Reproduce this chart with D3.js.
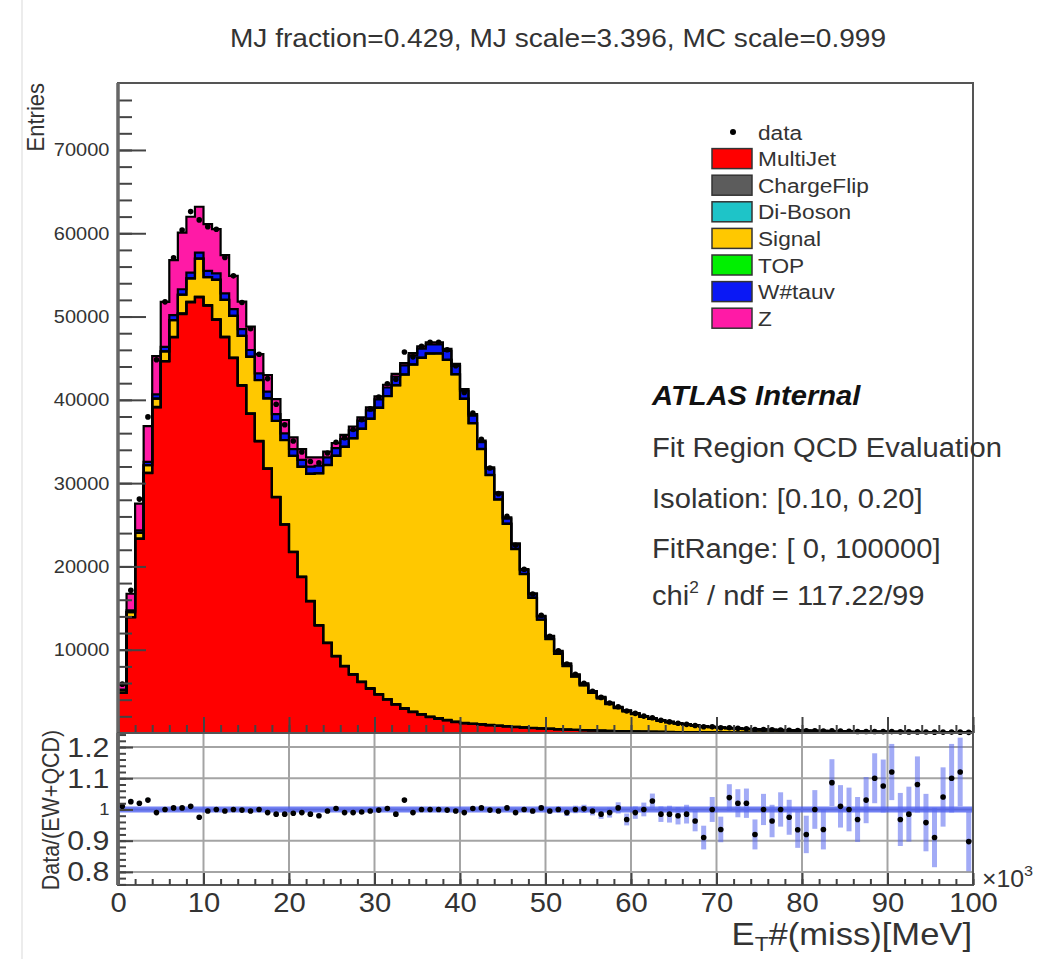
<!DOCTYPE html>
<html>
<head>
<meta charset="utf-8">
<script src="https://cdn.jsdelivr.net/npm/d3@7"></script>
<style>
  body { margin: 0; background: #fff; }
  svg { display: block; }
  text { font-family: "Liberation Sans", Arial, Helvetica, sans-serif; }
</style>
</head>
<body>
<script>
// bin contents, 100 bins of 1 (x10^3 MeV) from 0 to 100
const multiJet = [
  4800, 13900, 23300, 31200, 39100, 44600, 47500, 50300, 51700, 52300,
  51300, 49600, 47500, 45000, 41700, 38300, 35000, 31700, 28300, 25000,
  21700, 18700, 15800, 12900, 10800, 9200, 8000, 7000, 6100, 5300,
  4600, 4000, 3400, 2900, 2500, 2200, 1900, 1700, 1500, 1300,
  1150, 1080, 1000, 920, 850, 780, 710, 650, 590, 540,
  490, 440, 400, 360, 330, 300, 270, 240, 215, 195,
  175, 160, 145, 130, 118, 107, 97, 88, 80, 73,
  66, 60, 55, 50, 46, 42, 39, 36, 33, 30,
  28, 26, 24, 22, 20, 19, 18, 17, 16, 15,
  14, 13, 12, 11, 10, 10, 9, 9, 8, 8];
const chargeFlip = [
  4, 12, 22, 30, 36, 41, 45, 48, 50, 51,
  51, 50, 49, 47, 45, 43, 41, 39, 37, 36,
  35, 35, 35, 36, 37, 38, 39, 40, 41, 42,
  43, 44, 44, 44, 43, 42, 41, 39, 37, 34,
  31, 28, 25, 22, 20, 18, 16, 14, 12, 11,
  10, 9, 8, 7, 6, 6, 5, 5, 4, 4,
  3, 3, 3, 3, 2, 2, 2, 2, 2, 2,
  2, 2, 1, 1, 1, 1, 1, 1, 1, 1,
  1, 1, 1, 1, 1, 1, 1, 1, 1, 1,
  1, 1, 1, 1, 1, 1, 1, 1, 1, 1];
const diBoson = [
  2, 6, 10, 14, 17, 19, 21, 22, 23, 24,
  24, 24, 24, 24, 24, 24, 24, 25, 25, 26,
  27, 28, 29, 30, 31, 32, 33, 34, 35, 36,
  37, 38, 38, 39, 39, 39, 39, 38, 37, 36,
  34, 32, 30, 28, 26, 24, 22, 20, 18, 16,
  15, 14, 13, 12, 11, 10, 9, 9, 8, 8,
  7, 7, 6, 6, 6, 5, 5, 5, 4, 4,
  4, 4, 4, 3, 3, 3, 3, 3, 3, 3,
  2, 2, 2, 2, 2, 2, 2, 2, 2, 2,
  2, 2, 2, 2, 1, 1, 1, 1, 1, 1];
const signal = [
  300, 600, 700, 900, 1000, 1150, 2000, 2250, 2800, 4580,
  3360, 4740, 4420, 5000, 5900, 6800, 7300, 8400, 9100, 10100,
  11500, 13200, 15250, 18200, 21300, 24000, 26280, 28310, 30340, 32340,
  34350, 36350, 38250, 40050, 41650, 42750, 43560, 43780, 43210, 41670,
  38890, 36040, 33010, 29980, 27130, 24290, 21340, 18380, 15610, 13030,
  10740, 9040, 7620, 6400, 5360, 4510, 3870, 3220, 2760, 2390,
  2080, 1750, 1530, 1320, 1150, 1010, 884, 778, 690, 611,
  551, 500, 457, 415, 380, 346, 320, 294, 269, 253,
  235, 219, 201, 189, 176, 164, 152, 141, 133, 124,
  116, 110, 103, 96, 91, 86, 82, 76, 72, 67];
const topQuark = [
  0, 1, 2, 3, 4, 5, 6, 7, 8, 9,
  10, 11, 12, 13, 14, 15, 16, 17, 18, 19,
  20, 21, 22, 23, 24, 25, 26, 27, 28, 29,
  30, 31, 32, 33, 34, 35, 36, 36, 37, 37,
  38, 38, 38, 37, 37, 36, 35, 35, 34, 33,
  32, 31, 30, 29, 28, 27, 26, 25, 24, 23,
  22, 21, 20, 19, 18, 18, 17, 16, 15, 15,
  14, 13, 13, 12, 12, 11, 11, 10, 10, 9,
  9, 9, 8, 8, 8, 7, 7, 7, 6, 6,
  6, 6, 5, 5, 5, 5, 4, 4, 4, 4];
const wTauNu = [
  100, 200, 300, 400, 500, 550, 600, 650, 700, 720,
  740, 760, 780, 800, 800, 800, 800, 800, 800, 800,
  800, 800, 850, 900, 900, 900, 920, 940, 960, 980,
  1000, 1020, 1040, 1060, 1070, 1080, 1080, 1070, 1050, 1000,
  950, 880, 810, 740, 670, 600, 530, 460, 400, 340,
  290, 250, 215, 185, 160, 140, 120, 105, 92, 80,
  70, 62, 55, 48, 43, 38, 34, 30, 27, 24,
  22, 20, 18, 16, 15, 14, 13, 12, 11, 10,
  10, 9, 9, 8, 8, 7, 7, 7, 6, 6,
  6, 5, 5, 5, 5, 4, 4, 4, 4, 4];
const zJets = [
  600, 2000, 3200, 4300, 4600, 5400, 6600, 6800, 6700, 5500,
  5600, 5300, 4600, 4000, 3300, 2800, 2300, 2000, 1800, 1600,
  1400, 1300, 1100, 1000, 700, 600, 500, 450, 400, 380,
  350, 330, 310, 290, 280, 270, 260, 250, 240, 230,
  210, 200, 180, 160, 150, 130, 120, 110, 100, 90,
  80, 72, 65, 58, 52, 47, 42, 38, 34, 31,
  28, 25, 23, 21, 19, 17, 15, 14, 13, 12,
  11, 10, 10, 9, 9, 8, 8, 8, 7, 7,
  7, 6, 6, 6, 6, 5, 5, 5, 5, 5,
  4, 4, 4, 4, 4, 4, 3, 3, 3, 3];
const dataRatio = [
  1.010, 1.025, 1.020, 1.030, 0.990, 1.000, 1.005, 1.005, 1.010, 0.975,
  0.995, 1.000, 0.995, 1.000, 0.998, 0.995, 1.000, 0.990, 0.985, 0.985,
  0.988, 0.990, 0.985, 0.980, 0.995, 1.003, 0.990, 0.990, 0.992, 0.995,
  0.998, 1.003, 0.985, 1.030, 0.990, 1.000, 1.000, 1.000, 0.998, 0.995,
  0.990, 1.003, 1.005, 0.998, 0.995, 1.005, 0.990, 1.000, 0.995, 1.005,
  0.995, 1.000, 0.990, 1.000, 1.002, 0.995, 0.985, 0.990, 1.005, 0.968,
  0.990, 1.000, 1.027, 0.985, 0.985, 0.980, 0.985, 0.963, 0.910, 1.000,
  0.936, 1.038, 1.020, 1.020, 0.920, 1.000, 0.963, 1.000, 0.975, 0.935,
  0.920, 1.000, 0.936, 1.086, 1.010, 1.000, 0.968, 1.030, 1.100, 1.075,
  1.120, 0.968, 0.985, 1.080, 0.958, 0.910, 1.040, 1.100, 1.120, 0.897];
const ratioErr = [
  .004, .005, .004, .004, .004, .004, .004, .004, .004, .004,
  .004, .004, .004, .004, .004, .004, .004, .004, .005, .005,
  .005, .005, .005, .005, .005, .005, .005, .005, .005, .005,
  .005, .005, .005, .005, .005, .005, .005, .005, .005, .005,
  .005, .005, .006, .006, .006, .006, .007, .007, .008, .008,
  .009, .010, .011, .012, .013, .014, .015, .016, .018, .019,
  .020, .022, .024, .025, .027, .028, .030, .033, .038, .040,
  .041, .043, .045, .047, .048, .050, .052, .055, .056, .058,
  .060, .062, .064, .075, .068, .070, .072, .074, .080, .085,
  .090, .085, .088, .090, .092, .095, .095, .110, .110, .095];

const xTicks = [0, 10, 20, 30, 40, 50, 60, 70, 80, 90, 100];
const yTicks = [10000, 20000, 30000, 40000, 50000, 60000, 70000];
const ratioTicks = [0.8, 0.9, 1, 1.1, 1.2];
const stackKeys = ["MultiJet", "ChargeFlip", "Di-Boson", "Signal", "TOP", "Wtaunu", "Z"];
const stackCols = [multiJet, chargeFlip, diBoson, signal, topQuark, wTauNu, zJets];
const legendNames = ["MultiJet", "ChargeFlip", "Di-Boson", "Signal", "TOP", "W#tauv", "Z"];
const fillColors = ["#ff0000", "#5c5c5c", "#1ec4c8", "#ffc800", "#00f000", "#0a18f5", "#ff1aa6"];
const infoLines = ["Fit Region QCD Evaluation", "Isolation: [0.10, 0.20]", "FitRange: [ 0, 100000]"];

// layout
const xLo = 118, xHi = 973, topY = 83, midY = 733, botY = 885;
const stretch = 1.08;   // the picture is a bit wider than the ROOT canvas
const ink = "#333";

const svg = d3.select("body").append("svg").attr("width", 1040).attr("height", 959);
svg.append("rect").attr("width", 1040).attr("height", 959).attr("fill", "#fff");
svg.append("line").attr("x1", 22).attr("x2", 22).attr("y1", 0).attr("y2", 959)
    .attr("stroke", "#e6e6e6").attr("stroke-width", 1.5);

const x = d3.scaleLinear().domain([0, 100]).range([xLo, xHi]);
const y = d3.scaleLinear().domain([0, 78040]).range([midY, topY]);
const yr = d3.scaleLinear().domain([0.758, 1.245]).range([botY, midY]);

function label(px, py, size, anchor, rot) {
    const g = svg.append("g")
        .attr("transform", `translate(${px},${py}) scale(${stretch},1)` + (rot ? ` rotate(${rot})` : ""));
    return g.append("text")
        .attr("font-size", size)
        .attr("text-anchor", anchor || "start")
        .attr("fill", ink);
}

// 
// UPPER PAD
// 
const bins = d3.range(100).map(function (i) {
    const b = { i: i };
    stackKeys.forEach((k, j) => { b[k] = stackCols[j][i] });
    return b;
});
const series = d3.stack().keys(stackKeys)(bins);

const area = d3.area().x(p => x(p[0])).y0(p => y(p[1])).y1(p => y(p[2]));
const edge = d3.line().x(p => x(p[0])).y(p => y(p[2]));

const steps = series.map(s => s.flatMap(d => [[d.data.i, d[0], d[1]], [d.data.i + 1, d[0], d[1]]]));

svg.append("g").selectAll("path")
    .data(steps)
    .enter().append("path")
    .attr("d", area)
    .attr("fill", (d, i) => fillColors[i]);

svg.append("g").selectAll("path")
    .data(steps)
    .enter().append("path")
    .attr("d", edge)
    .attr("fill", "none")
    .attr("stroke", "#000")
    .attr("stroke-width", 2.2);

const totals = bins.map(b => d3.sum(stackKeys, k => b[k]));
const dataPts = totals.map((t, i) => ({ i: i, v: t * dataRatio[i], e: t * ratioErr[i] }));

const dataG = svg.append("g");
dataG.selectAll("line")
    .data(dataPts)
    .enter().append("line")
    .attr("x1", d => x(d.i + 0.5)).attr("x2", d => x(d.i + 0.5))
    .attr("y1", d => y(d.v - d.e)).attr("y2", d => y(d.v + d.e))
    .attr("stroke", "#000").attr("stroke-width", 1.5);
dataG.selectAll("circle")
    .data(dataPts)
    .enter().append("circle")
    .attr("cx", d => x(d.i + 0.5))
    .attr("cy", d => y(d.v))
    .attr("r", 2.8)
    .attr("fill", "#000");

// frame and axes of the upper pad
svg.append("rect").attr("x", xLo).attr("y", topY).attr("width", xHi - xLo).attr("height", midY - topY)
    .attr("fill", "none").attr("stroke", "#555").attr("stroke-width", 2);

const yMajor = svg.append("g").attr("transform", `translate(${xLo},0)`)
    .call(d3.axisLeft(y).tickValues(yTicks).tickSize(-28).tickPadding(8).tickFormat(d3.format("d")));
const yMinor = svg.append("g").attr("transform", `translate(${xLo},0)`)
    .call(d3.axisLeft(y).tickValues(d3.range(2000, 78000, 2000)).tickSize(-14).tickFormat(""));
const xUpMajor = svg.append("g").attr("transform", `translate(0,${midY})`)
    .call(d3.axisBottom(x).tickValues(xTicks).tickSize(-16).tickFormat(""));
const xUpMinor = svg.append("g").attr("transform", `translate(0,${midY})`)
    .call(d3.axisBottom(x).tickValues(d3.range(0, 101, 2)).tickSize(-8).tickFormat(""));

[yMajor, yMinor, xUpMajor, xUpMinor].forEach(function (g) {
    g.select(".domain").remove();
    g.selectAll(".tick line").attr("stroke", "#444").attr("stroke-width", 2);
});
yMajor.selectAll(".tick text")
    .attr("font-size", 18.5).attr("fill", ink)
    .attr("transform", `scale(${stretch},1)`);

svg.append("line").attr("x1", xLo).attr("x2", xLo).attr("y1", topY).attr("y2", botY)
    .attr("stroke", "#666").attr("stroke-width", 3.5);

// 
// LOWER PAD
// 
const grid = svg.append("g").attr("stroke", "#a4a4a4").attr("stroke-width", 2);
grid.selectAll("line.v")
    .data(xTicks.slice(1, -1))
    .enter().append("line").attr("class", "v")
    .attr("x1", d => x(d)).attr("x2", d => x(d))
    .attr("y1", midY).attr("y2", botY);
grid.selectAll("line.h")
    .data(ratioTicks)
    .enter().append("line").attr("class", "h")
    .attr("x1", xLo).attr("x2", xHi)
    .attr("y1", d => yr(d)).attr("y2", d => yr(d));

svg.append("line").attr("x1", xLo).attr("x2", xHi).attr("y1", yr(1)).attr("y2", yr(1))
    .attr("stroke", "#4357f0").attr("stroke-opacity", 0.75).attr("stroke-width", 6);

const ratioPts = dataRatio.map((r, i) => ({ i: i, r: r, e: ratioErr[i] }));
const ratioG = svg.append("g");
ratioG.selectAll("line")
    .data(ratioPts)
    .enter().append("line")
    .attr("x1", d => x(d.i + 0.5)).attr("x2", d => x(d.i + 0.5))
    .attr("y1", d => yr(Math.max(d.r - d.e, 0.758))).attr("y2", d => yr(Math.min(d.r + d.e, 1.245)))
    .attr("stroke", "#5566ee").attr("stroke-opacity", 0.55).attr("stroke-width", 5);
ratioG.selectAll("circle")
    .data(ratioPts)
    .enter().append("circle")
    .attr("cx", d => x(d.i + 0.5))
    .attr("cy", d => yr(d.r))
    .attr("r", 2.8)
    .attr("fill", "#000");

svg.append("rect").attr("x", xLo).attr("y", midY).attr("width", xHi - xLo).attr("height", botY - midY)
    .attr("fill", "none").attr("stroke", "#555").attr("stroke-width", 2);

const rMajor = svg.append("g").attr("transform", `translate(${xLo},0)`)
    .call(d3.axisLeft(yr).tickValues(ratioTicks).tickSize(-15).tickPadding(8).tickFormat(d3.format("")));
const rMinor = svg.append("g").attr("transform", `translate(${xLo},0)`)
    .call(d3.axisLeft(yr).tickValues(d3.range(0.76, 1.245, 0.02)).tickSize(-8).tickFormat(""));
const xMajor = svg.append("g").attr("transform", `translate(0,${botY})`)
    .call(d3.axisBottom(x).tickValues(xTicks).tickSize(-12).tickPadding(8));
const xMinor = svg.append("g").attr("transform", `translate(0,${botY})`)
    .call(d3.axisBottom(x).tickValues(d3.range(0, 101, 2)).tickSize(-6).tickFormat(""));

[rMajor, rMinor, xMajor, xMinor].forEach(function (g) {
    g.select(".domain").remove();
    g.selectAll(".tick line").attr("stroke", "#444").attr("stroke-width", 2);
});
rMajor.selectAll(".tick text")
    .attr("font-size", d => d === 1 ? 17 : 28).attr("fill", ink)
    .attr("transform", `scale(${stretch},1)`);
xMajor.selectAll(".tick text")
    .attr("font-size", 27).attr("fill", ink)
    .attr("transform", `scale(${stretch},1)`);

svg.append("line").attr("x1", xLo).attr("x2", xLo).attr("y1", midY).attr("y2", botY)
    .attr("stroke", "#666").attr("stroke-width", 3.5);

// 
// TEXTS
// 
label(558, 47, 26, "middle").text("MJ fraction=0.429, MJ scale=3.396, MC scale=0.999");
label(44, topY, 22, "end", -90).text("Entries");
label(59, 810, 21.5, "middle", -90).text("Data/(EW+QCD)");

const xt = label(972, 945, 32, "end");
xt.append("tspan").text("E");
xt.append("tspan").attr("font-size", 21).attr("dy", 6).text("T");
xt.append("tspan").attr("dy", -6).text("#(miss)[MeV]");

const mult = label(982, 887, 23, "start");
mult.append("tspan").text("\u00d710");
mult.append("tspan").attr("font-size", 15).attr("dy", -11).text("3");

label(652, 405, 27).attr("font-weight", "bold").attr("font-style", "italic").attr("fill", "#111")
    .text("ATLAS Internal");
infoLines.forEach((s, i) => label(652, 457 + i * 50.5, 27).text(s));
const chi = label(652, 605, 27);
chi.append("tspan").text("chi");
chi.append("tspan").attr("font-size", 16).attr("dy", -12).text("2");
chi.append("tspan").attr("dy", 12).text(" / ndf = 117.22/99");

// legend
const legY0 = 132, legStep = 26.6;
svg.append("circle").attr("cx", 733).attr("cy", legY0).attr("r", 3).attr("fill", "#000");
label(758, legY0 + 7.5, 21).text("data");
legendNames.forEach(function (name, i) {
    const ry = legY0 + (i + 1) * legStep;
    svg.append("rect").attr("x", 712).attr("y", ry - 10).attr("width", 40).attr("height", 20)
        .attr("fill", fillColors[i]).attr("stroke", "#333").attr("stroke-width", 1.5);
    label(758, ry + 7.5, 21).text(name);
});
</script>
</body>
</html>
